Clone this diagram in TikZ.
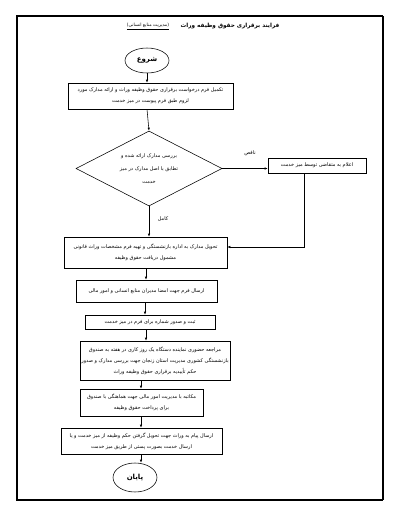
\documentclass[tikz,border=0pt]{standalone}
\usepackage{fontspec}
\usetikzlibrary{shapes.geometric,arrows.meta}
\TeXXeTstate=1
\newfontfamily\fafont[Script=Arabic]{DejaVu Sans}
\newcommand{\fa}[1]{{\fafont\beginR #1\endR}}
\tikzset{
	stepbox/.style={draw, line width=0.55pt, rectangle, inner sep=0pt, align=center, font=\fontsize{5}{11}\selectfont},
	checkbox/.style={draw, line width=0.55pt, diamond, aspect=2, inner sep=0pt, align=center, minimum width=146, minimum height=75, font=\fontsize{5}{13}\selectfont},
	termbox/.style={draw, line width=0.55pt, ellipse, inner sep=0pt, font=\bfseries\fontsize{7}{9}\selectfont},
	flow/.style={line width=0.55pt, -{Latex[length=3pt,width=2.4pt]}},
	tag/.style={font=\fontsize{5}{7}\selectfont}
}

\begin{document}
\begin{tikzpicture}[x=1pt, y=-1pt]
			\useasboundingbox (0,0) rectangle (400,517);
			
			%%%%% FRAME %%%%%
			\draw[line width=1.4pt] (16,16) -- (383,16);
			\draw[line width=1.8pt] (383,16) -- (383,500);
			\draw[line width=2.2pt] (17,16) -- (17,500) -- (383,500);
			
			%%%%% TITLE %%%%%
			\node[font=\bfseries\fontsize{5.7}{8}\selectfont] (title) at (230,26) {\fa{فرایند برقراری حقوق وظیفه وراث}};
			\node[font=\fontsize{4.5}{6}\selectfont] (subtitle) at (148,26.5) {\underline{\fa{(مدیریت منابع انسانی)}}};
			
			%%%%% STEPS %%%%%
			\node[termbox, minimum width=44, minimum height=25] (start) at (147,60.5) {\fa{شروع}};
			\node[stepbox, minimum width=165, minimum height=26] (fill) at (150.5,96) {\fa{تکمیل فرم درخواست برقراری حقوق وظیفه وراث و ارائه مدارک مورد}\\\fa{لزوم طبق فرم پیوست در میز خدمت}};
			\node[checkbox] (check) at (149,168.5) {\fa{بررسی مدارک ارائه شده و}\\\fa{تطابق با اصل مدارک در میز}\\\fa{خدمت}};
			\node[stepbox, minimum width=98, minimum height=15] (notify) at (317,165.5) {\fa{اعلام به متقاضی توسط میز خدمت}};
			\node[stepbox, minimum width=163, minimum height=31] (deliver) at (145.5,252.5) {\fa{تحویل مدارک به اداره بازنشستگی و تهیه فرم مشخصات وراث قانونی}\\\fa{مشمول دریافت حقوق وظیفه}};
			\node[stepbox, minimum width=141, minimum height=22] (sign) at (146.5,291) {\fa{ارسال فرم جهت امضا مدیران منابع انسانی و امور مالی}};
			\node[stepbox, minimum width=130, minimum height=14] (record) at (150,322) {\fa{ثبت و صدور شماره برای فرم در میز خدمت}};
			\node[stepbox, minimum width=150, minimum height=39] (visit) at (155,360.5) {\fa{مراجعه حضوری نماینده دستگاه یک روز کاری در هفته به صندوق}\\\fa{بازنشستگی کشوری مدیریت استان زنجان جهت بررسی مدارک و صدور}\\\fa{حکم تأییدیه برقراری حقوق وظیفه وراث}};
			\node[stepbox, minimum width=123, minimum height=27] (letter) at (141.5,402.5) {\fa{مکاتبه با مدیریت امور مالی جهت هماهنگی با صندوق}\\\fa{برای پرداخت حقوق وظیفه}};
			\node[stepbox, minimum width=161, minimum height=26] (message) at (141.5,441) {\fa{ارسال پیام به وراث جهت تحویل گرفتن حکم وظیفه از میز خدمت و یا}\\\fa{ارسال خدمت بصورت پستی از طریق میز خدمت}};
			\node[termbox, minimum width=44, minimum height=29] (stop) at (135,477.5) {\fa{پایان}};
			
			%%%%% ARROWS %%%%%
			\coordinate (colA) at (147,0);
			\coordinate (colB) at (141,0);
			\coordinate (colC) at (146,0);
			\coordinate (colD) at (145,0);
			\coordinate (turn) at (304,247);
			\draw[flow] (start.south -| colA) -- (fill.north -| colA);
			\draw[flow] (fill.south -| colA) -- (check.north);
			\draw[flow] (check.east) -- (check.east -| notify.west);
			\draw[flow] (check.south) -- (check.south |- deliver.north);
			\draw[flow] (notify.south -| turn) -- (turn) -- (turn -| deliver.east);
			\draw[flow] (deliver.south -| colC) -- (sign.north -| colC);
			\draw[flow] (sign.south -| colD) -- (record.north -| colD);
			\draw[flow] (record.south -| colC) -- (visit.north -| colC);
			\draw[flow] (visit.south -| colB) -- (letter.north -| colB);
			\draw[flow] (letter.south -| colB) -- (message.north -| colB);
			\draw[flow] (message.south -| colB) -- (stop.north -| colB);
			
			\node[tag] (lacking) at (250,153) {\fa{ناقص}};
			\node[tag] (complete) at (163,219) {\fa{کامل}};
\end{tikzpicture}
\end{document}
